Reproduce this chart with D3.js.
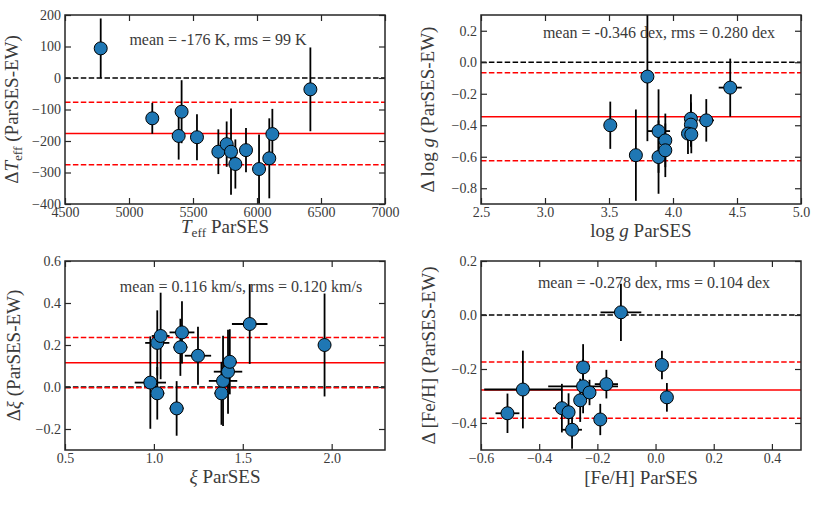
<!DOCTYPE html>
<html>
<head>
<meta charset="utf-8">
</head>
<body>
<style>
body {
  margin: 0;
  background: #fff;
}
svg text {
  font-family: "Liberation Serif", "DejaVu Serif", serif;
  fill: #262626;
}
</style>
<script src="https://d3js.org/d3.v7.min.js"></script>

<script>

var width = 817,
    height = 511;

// ---- Teff panel (top left)
var teffX    = [4779, 5182, 5411, 5388, 5531, 5698, 5763, 5797, 5831, 5914, 6016, 6096, 6120, 6417];
var teffY    = [94, -128, -107, -184, -188, -234, -210, -234, -273, -229, -289, -255, -178, -36];
var teffYerr = [95, 49, 100, 75, 73, 71, 72, 137, 78, 70, 110, 127, 80, 133];
var teffXTicks = [4500, 5000, 5500, 6000, 6500, 7000];
var teffYTicks = [-400, -300, -200, -100, 0, 100, 200];

// ---- log g panel (top right)
var loggX    = [3.51, 3.71, 3.80, 3.887, 3.887, 3.94, 3.94, 4.14, 4.14, 4.117, 4.143, 4.26, 4.447];
var loggY    = [-0.40, -0.59, -0.091, -0.437, -0.602, -0.496, -0.559, -0.358, -0.396, -0.453, -0.458, -0.369, -0.161];
var loggXerr = [0.01, 0.03, 0.01, 0.09, 0.02, 0.02, 0.02, 0.02, 0.02, 0.02, 0.02, 0.06, 0.09];
var loggYerr = [0.15, 0.29, 0.41, 0.265, 0.233, 0.17, 0.17, 0.155, 0.14, 0.13, 0.12, 0.135, 0.184];
var loggXTicks = [2.5, 3.0, 3.5, 4.0, 4.5, 5.0];
var loggYTicks = [-0.8, -0.6, -0.4, -0.2, 0.0, 0.2];

// ---- microturbulence panel (bottom left)
var xiX    = [0.98, 1.019, 1.019, 1.038, 1.128, 1.149, 1.158, 1.248, 1.38, 1.389, 1.417, 1.427, 1.539, 1.96];
var xiY    = [0.021, -0.03, 0.21, 0.243, -0.102, 0.189, 0.26, 0.149, -0.03, 0.029, 0.073, 0.12, 0.30, 0.20];
var xiXerr = [0.088, 0.04, 0.068, 0.05, 0.04, 0.04, 0.07, 0.074, 0.04, 0.08, 0.08, 0.04, 0.10, 0.02];
var xiYerr = [0.22, 0.125, 0.155, 0.206, 0.13, 0.136, 0.148, 0.138, 0.15, 0.215, 0.2, 0.155, 0.19, 0.245];
var xiXTicks = [0.5, 1.0, 1.5, 2.0];
var xiYTicks = [-0.2, 0.0, 0.2, 0.4, 0.6];

// ---- [Fe/H] panel (bottom right)
var fehX    = [-0.509, -0.456, -0.322, -0.299, -0.287, -0.259, -0.249, -0.249, -0.227, -0.19, -0.169, -0.119, 0.022, 0.039];
var fehY    = [-0.364, -0.276, -0.345, -0.36, -0.425, -0.316, -0.264, -0.194, -0.287, -0.387, -0.256, 0.010, -0.185, -0.305];
var fehXerr = [0.041, 0.133, 0.03, 0.02, 0.034, 0.02, 0.12, 0.02, 0.02, 0.02, 0.04, 0.07, 0.01, 0.01];
var fehYerr = [0.073, 0.144, 0.09, 0.07, 0.07, 0.08, 0.1, 0.086, 0.047, 0.058, 0.053, 0.106, 0.053, 0.053];
var fehXTicks = [-0.6, -0.4, -0.2, 0.0, 0.2, 0.4];
var fehYTicks = [-0.4, -0.2, 0.0, 0.2];

// mean offset and rms of each panel
var meanVals = [-176, -0.346, 0.116, -0.278];
var rmsVals  = [99, 0.280, 0.120, 0.104];
var notes = ["mean = -176 K, rms = 99 K",
             "mean = -0.346 dex, rms = 0.280 dex",
             "mean = 0.116 km/s, rms = 0.120 km/s",
             "mean = -0.278 dex, rms = 0.104 dex"];


var panels = [
  { left: 65, top: 15, x: teffX, y: teffY, xerr: null, yerr: teffYerr,
    xdom: [4500, 7000], ydom: [-400, 200], xticks: teffXTicks, yticks: teffYTicks,
    xfmt: d3.format("d"), yfmt: d3.format("d"),
    note: [218, 45], xlabY: 233, ylabX: 18,
    xlab: [{t: "T", i: 1}, {t: "eff", sub: 1}, {t: " ParSES"}],
    ylab: [{t: "\u0394"}, {t: "T", i: 1}, {t: "eff", sub: 1}, {t: " (ParSES-EW)"}] },
  { left: 481, top: 15, x: loggX, y: loggY, xerr: loggXerr, yerr: loggYerr,
    xdom: [2.5, 5.0], ydom: [-0.9, 0.3], xticks: loggXTicks, yticks: loggYTicks,
    xfmt: d3.format(".1f"), yfmt: d3.format(".1f"),
    note: [659, 37.5], xlabY: 237, ylabX: 434,
    xlab: [{t: "log "}, {t: "g", i: 1}, {t: " ParSES"}],
    ylab: [{t: "\u0394 log "}, {t: "g", i: 1}, {t: " (ParSES-EW)"}] },
  { left: 65, top: 261, x: xiX, y: xiY, xerr: xiXerr, yerr: xiYerr,
    xdom: [0.5, 2.3], ydom: [-0.3, 0.6], xticks: xiXTicks, yticks: xiYTicks,
    xfmt: d3.format(".1f"), yfmt: d3.format(".1f"),
    note: [241, 292], xlabY: 483, ylabX: 20,
    xlab: [{t: "\u03BE", i: 1}, {t: " ParSES"}],
    ylab: [{t: "\u0394"}, {t: "\u03BE", i: 1}, {t: " (ParSES-EW)"}] },
  { left: 481, top: 261, x: fehX, y: fehY, xerr: fehXerr, yerr: fehYerr,
    xdom: [-0.6, 0.5], ydom: [-0.5, 0.2], xticks: fehXTicks, yticks: fehYTicks,
    xfmt: d3.format(".1f"), yfmt: d3.format(".1f"),
    note: [654, 288], xlabY: 484, ylabX: 435,
    xlab: [{t: "[Fe/H] ParSES"}],
    ylab: [{t: "\u0394 [Fe/H] (ParSES-EW)"}] }
];

var pw = 320,
    ph = 189;

var svg = d3.select("body")
    .append("svg")
    .attr("width", width)
    .attr("height", height);

// write a label made of pieces (italic / subscript)
function addPieces(text, pieces, size) {
  pieces.forEach(function(p, k) {
    var ts = text.append("tspan").text(p.t);
    if (p.i) ts.style("font-style", "italic");
    if (p.sub) ts.attr("font-size", size * 0.7).attr("dy", size * 0.22);
    else if (k > 0 && pieces[k - 1].sub) ts.attr("dy", -size * 0.22);
  });
}

panels.forEach(function(p, n) {

  var x = d3.scaleLinear().domain(p.xdom).range([0, pw]);
  var y = d3.scaleLinear().domain(p.ydom).range([ph, 0]);

  var g = svg.append("g")
      .attr("transform", "translate(" + p.left + "," + p.top + ")");

  g.append("clipPath")
      .attr("id", "clip" + n)
    .append("rect")
      .attr("width", pw)
      .attr("height", ph);

  var plot = g.append("g").attr("clip-path", "url(#clip" + n + ")");

  // zero line, mean and +/- rms
  plot.append("line")
      .attr("x1", 0).attr("x2", pw)
      .attr("y1", y(0)).attr("y2", y(0))
      .style("stroke", "#000")
      .style("stroke-width", 1.5)
      .style("stroke-dasharray", "5.5,2.4");

  [meanVals[n] - rmsVals[n], meanVals[n] + rmsVals[n]].forEach(function(v) {
    plot.append("line")
        .attr("x1", 0).attr("x2", pw)
        .attr("y1", y(v)).attr("y2", y(v))
        .style("stroke", "#ff0000")
        .style("stroke-width", 1.5)
        .style("stroke-dasharray", "5.5,2.4");
  });

  plot.append("line")
      .attr("x1", 0).attr("x2", pw)
      .attr("y1", y(meanVals[n])).attr("y2", y(meanVals[n]))
      .style("stroke", "#ff0000")
      .style("stroke-width", 1.5);

  var idx = d3.range(p.x.length);

  // error bars
  plot.selectAll(".ey")
      .data(idx)
      .enter().append("line")
      .attr("class", "ey")
      .attr("x1", function(i) { return x(p.x[i]); })
      .attr("x2", function(i) { return x(p.x[i]); })
      .attr("y1", function(i) { return y(p.y[i] - p.yerr[i]); })
      .attr("y2", function(i) { return y(p.y[i] + p.yerr[i]); })
      .style("stroke", "#000")
      .style("stroke-width", 1.8);

  if (p.xerr) {
    plot.selectAll(".ex")
        .data(idx)
        .enter().append("line")
        .attr("class", "ex")
        .attr("x1", function(i) { return x(p.x[i] - p.xerr[i]); })
        .attr("x2", function(i) { return x(p.x[i] + p.xerr[i]); })
        .attr("y1", function(i) { return y(p.y[i]); })
        .attr("y2", function(i) { return y(p.y[i]); })
        .style("stroke", "#000")
        .style("stroke-width", 1.8);
  }

  plot.selectAll(".pt")
      .data(idx)
      .enter().append("circle")
      .attr("class", "pt")
      .attr("cx", function(i) { return x(p.x[i]); })
      .attr("cy", function(i) { return y(p.y[i]); })
      .attr("r", 6.5)
      .style("fill", "#1f77b4")
      .style("stroke", "#000")
      .style("stroke-width", 1);

  // axes, ticks pointing inwards on all four sides
  var fs = 14;
  var bottom = g.append("g")
      .attr("transform", "translate(0," + ph + ")")
      .call(d3.axisBottom(x).tickValues(p.xticks).tickFormat(p.xfmt)
            .tickSizeInner(-6).tickSizeOuter(0).tickPadding(3));
  var left = g.append("g")
      .call(d3.axisLeft(y).tickValues(p.yticks).tickFormat(p.yfmt)
            .tickSizeInner(-6).tickSizeOuter(0).tickPadding(4));
  var top = g.append("g")
      .call(d3.axisTop(x).tickValues(p.xticks).tickFormat("")
            .tickSizeInner(-6).tickSizeOuter(0));
  var right = g.append("g")
      .attr("transform", "translate(" + pw + ",0)")
      .call(d3.axisRight(y).tickValues(p.yticks).tickFormat("")
            .tickSizeInner(-6).tickSizeOuter(0));

  [bottom, left, top, right].forEach(function(a) {
    a.select(".domain").remove();
    a.selectAll("line").style("stroke", "#262626").style("stroke-width", 1.2);
    a.selectAll("text")
        .style("font-family", '"Liberation Serif", serif')
        .style("font-size", fs + "px")
        .style("fill", "#3a3a3a");
  });

  g.append("rect")
      .attr("width", pw)
      .attr("height", ph)
      .style("fill", "none")
      .style("stroke", "#262626")
      .style("stroke-width", 1.5);

  // annotation
  svg.append("text")
      .attr("x", p.note[0])
      .attr("y", p.note[1])
      .attr("text-anchor", "middle")
      .style("font-size", "16px")
      .style("fill", "#3a3a3a")
      .text(notes[n]);

  // axis labels
  var xl = svg.append("text")
      .attr("x", p.left + pw / 2)
      .attr("y", p.xlabY)
      .attr("text-anchor", "middle")
      .style("font-size", "19px")
      .style("fill", "#3a3a3a");
  addPieces(xl, p.xlab, 19);

  var yl = svg.append("text")
      .attr("transform", "translate(" + p.ylabX + "," + (p.top + ph / 2) + ") rotate(-90)")
      .attr("text-anchor", "middle")
      .style("font-size", "19px")
      .style("fill", "#3a3a3a");
  addPieces(yl, p.ylab, 19);

});

</script>
</body>
</html>
